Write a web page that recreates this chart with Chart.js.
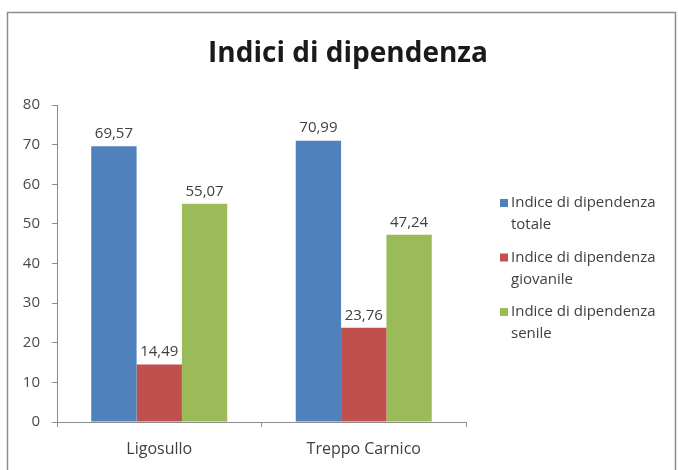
<!DOCTYPE html>
<html>
<head>
<meta charset="utf-8">
<script src="https://cdn.jsdelivr.net/npm/chart.js@4/dist/chart.umd.min.js"></script>
<style>
  html, body { margin: 0; padding: 0; background: #fff; }
  #wrap { position: relative; width: 678px; height: 470px; }
</style>
</head>
<body>
<div id="wrap"><canvas id="grafico" width="678" height="470"></canvas></div>
<script>
// Dati del grafico
const comuni = ['Ligosullo', 'Treppo Carnico'];
const serieNomi = [
    ['Indice di dipendenza', 'totale'],
    ['Indice di dipendenza', 'giovanile'],
    ['Indice di dipendenza', 'senile']
];
const indiceTotale = [69.57, 70.99];
const indiceGiovanile = [14.49, 23.76];
const indiceSenile = [55.07, 47.24];
const yTicks = [0, 10, 20, 30, 40, 50, 60, 70, 80];

const colori = ['#4F81BD', '#C0504D', '#9BBB59'];
const FONT = '"Open Sans", "Liberation Sans", sans-serif';

// Numeri con la virgola come separatore decimale
const formatta = v => v.toFixed(2).replace('.', ',');

// Cornice, titolo, etichette dei valori e legenda
const decorazioni = {
    id: 'decorazioni',
    beforeDraw(chart) {
        const ctx = chart.ctx;
        ctx.save();
        ctx.fillStyle = '#fff';
        ctx.fillRect(0, 0, chart.width, chart.height);
        ctx.strokeStyle = '#8c8c8c';
        ctx.lineWidth = 1.5;
        ctx.strokeRect(7.5, 12.5, 668, 462);
        ctx.restore();
    },
    afterDatasetsDraw(chart) {
        const ctx = chart.ctx;
        ctx.save();

        // titolo
        ctx.fillStyle = '#1a1a1a';
        ctx.font = 'bold 28px ' + FONT;
        ctx.textAlign = 'center';
        ctx.textBaseline = 'middle';
        ctx.fillText('Indici di dipendenza', 348, 54);

        // valori sopra le barre
        ctx.font = '15px ' + FONT;
        ctx.fillStyle = '#404040';
        ctx.textBaseline = 'bottom';
        chart.data.datasets.forEach((ds, i) => {
            chart.getDatasetMeta(i).data.forEach((bar, j) => {
                ctx.fillText(formatta(ds.data[j]), bar.x, bar.y - 5);
            });
        });

        // legenda
        ctx.textAlign = 'left';
        ctx.textBaseline = 'middle';
        serieNomi.forEach((righe, i) => {
            const y = 203 + i * 54.5;
            ctx.fillStyle = colori[i];
            ctx.fillRect(500, y - 4, 8, 8);
            ctx.fillStyle = '#404040';
            righe.forEach((t, k) => ctx.fillText(t, 511, y + k * 22));
        });
        ctx.restore();
    }
};

const datasets = [indiceTotale, indiceGiovanile, indiceSenile].map((valori, i) => ({
    label: serieNomi[i].join(' '),
    data: valori,
    backgroundColor: colori[i],
    borderWidth: 0,
    barPercentage: 1,
    categoryPercentage: 0.665
}));

new Chart(document.getElementById('grafico'), {
    type: 'bar',
    data: { labels: comuni, datasets: datasets },
    options: {
        responsive: false,
        animation: false,
        layout: { padding: { top: 105, right: 212, left: 0, bottom: 0 } },
        plugins: {
            legend: { display: false },
            title: { display: false },
            tooltip: { enabled: false }
        },
        scales: {
            x: {
                grid: { drawOnChartArea: false, tickLength: 5, color: '#8c8c8c', offset: true },
                border: { display: true, color: '#8c8c8c' },
                ticks: { color: '#404040', font: { size: 16, family: FONT }, padding: 13 },
                afterFit: scale => { scale.height = 48; }
            },
            y: {
                min: 0,
                max: 80,
                afterBuildTicks: scale => { scale.ticks = yTicks.map(v => ({ value: v })); },
                grid: { drawOnChartArea: false, tickLength: 5, color: '#8c8c8c' },
                border: { display: true, color: '#8c8c8c' },
                ticks: { color: '#4a4a4a', font: { size: 15, family: FONT }, padding: 12 },
                afterFit: scale => { scale.width = 57; }
            }
        }
    },
    plugins: [decorazioni]
});
</script>
</body>
</html>
